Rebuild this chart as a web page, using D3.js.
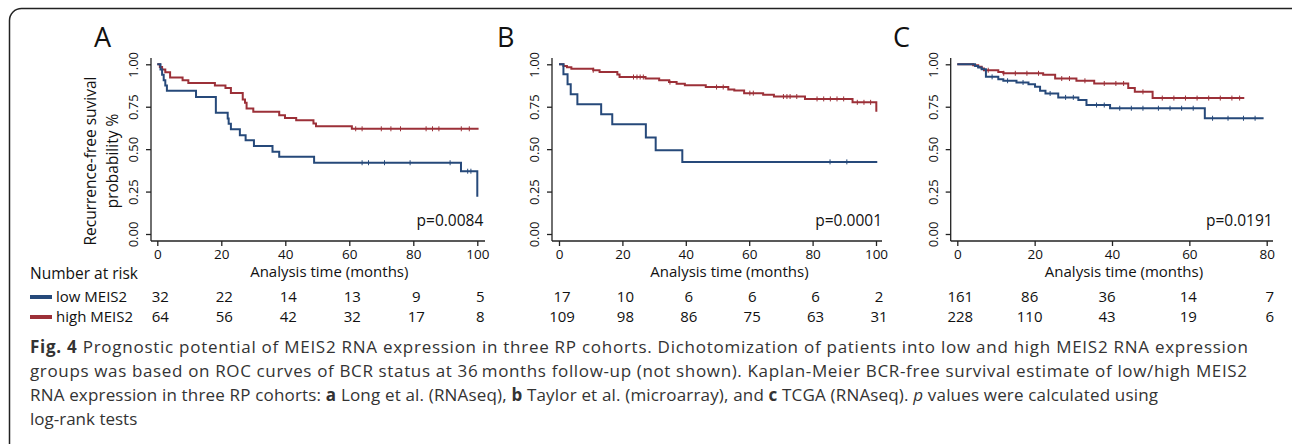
<!DOCTYPE html>
<html>
<head>
<meta charset="utf-8">
<script src="https://cdn.jsdelivr.net/npm/d3@7/dist/d3.min.js"></script>
<style>
  body { margin: 0; background: #fff; }
  svg { display: block; }
  text { font-family: "Open Sans", sans-serif; fill: #111; }
</style>
</head>
<body>
<div id="chart"></div>
<script>
// KM steps: [time in months, survival after the drop]
const lowA = [[0, 1], [1, 0.969], [1.5, 0.938], [2, 0.906], [2.5, 0.875], [3, 0.844],
  [12.1, 0.808], [18.3, 0.714], [22, 0.68], [22.3, 0.65], [23, 0.617], [25.8, 0.582],
  [27.6, 0.553], [30.2, 0.518], [36, 0.484], [38.1, 0.455], [49, 0.42], [94.9, 0.37], [100, 0.22]];
const highA = [[0, 1], [0.8, 0.984], [1.5, 0.969], [2.5, 0.953], [4, 0.922], [7.9, 0.906],
  [9.7, 0.89], [18, 0.875], [21.3, 0.861], [23, 0.831], [26.7, 0.792], [27.4, 0.773],
  [27.9, 0.739], [30, 0.72], [38.1, 0.70], [39.9, 0.684], [43.4, 0.671], [48.8, 0.651],
  [49.6, 0.635], [60.8, 0.62], [100.4, 0.62]];
const lowB = [[0, 1], [1.4, 0.941], [2.7, 0.882], [3.7, 0.824], [5.8, 0.765], [13.3, 0.706],
  [16.8, 0.647], [27.4, 0.569], [30.5, 0.494], [38.9, 0.425], [100.4, 0.425]];
const highB = [[0, 1], [1.4, 0.99], [2.5, 0.982], [3.9, 0.974], [10.8, 0.965], [12.8, 0.955],
  [18.4, 0.94], [19.1, 0.925], [27.3, 0.916], [31.6, 0.906], [34.7, 0.895], [37.1, 0.885],
  [39.7, 0.876], [46.3, 0.866], [53.4, 0.852], [55.3, 0.845], [58.4, 0.83], [64.4, 0.82],
  [67.8, 0.81], [77.6, 0.796], [92.6, 0.776], [100, 0.776], [100.1, 0.72]];
const lowC = [[0, 1], [4.6, 0.99], [5.4, 0.981], [6.3, 0.971], [7.4, 0.926], [10.6, 0.912],
  [11.9, 0.903], [15.3, 0.893], [18.4, 0.883], [20.1, 0.867], [21.4, 0.844], [22.8, 0.828],
  [26.1, 0.805], [31.3, 0.789], [33.4, 0.76], [39.5, 0.741], [64, 0.682], [79.2, 0.682]];
const highC = [[0, 1], [4.1, 0.994], [5.4, 0.986], [6.3, 0.975], [6.9, 0.965], [10.6, 0.955],
  [11.9, 0.947], [22.2, 0.938], [25.3, 0.916], [30.8, 0.903], [35.4, 0.887], [44.2, 0.86],
  [45.9, 0.838], [50.5, 0.801], [74.2, 0.801]];

// censoring marks (months)
const censLowA = [64, 66, 71, 79, 91.5, 97, 98];
const censHighA = [62, 64, 70, 73, 76, 84, 86, 88, 95, 97.5];
const censLowB = [85.5, 90.8];
const censHighB = [10.8, 23.5, 24.6, 25.6, 26.6, 35, 49.7, 51.8, 60.2, 61.3, 70.8, 71.9, 72.9,
  75, 81.4, 83.5, 85.6, 87.7, 89.8, 94.1, 96.2, 98.3];
const censLowC = [9, 13, 17, 24, 28, 30, 36, 38, 42, 45, 48, 52, 55, 58, 61, 66, 70, 74, 77];
const censHighC = [8, 12, 15, 18, 21, 27, 29, 33, 38, 41, 43, 48, 53, 56, 59, 62, 65, 68, 71, 73];

const riskTimesAB = [0, 20, 40, 60, 80, 100];
const riskTimesC = [0, 20, 40, 60, 80];
const riskLowA = [32, 22, 14, 13, 9, 5];
const riskHighA = [64, 56, 42, 32, 17, 8];
const riskLowB = [17, 10, 6, 6, 6, 2];
const riskHighB = [109, 98, 86, 75, 63, 31];
const riskLowC = [161, 86, 36, 14, 7];
const riskHighC = [228, 110, 43, 19, 6];

const yTicks = [0, 0.25, 0.5, 0.75, 1];
const pValues = ["p=0.0084", "p=0.0001", "p=0.0191"];
const panelLetters = ["A", "B", "C"];

const blue = "#26497a";
const red = "#9c3038";

const svg = d3.select("#chart").append("svg")
  .attr("width", 1292).attr("height", 444);

// outer frame, right and bottom edges run off the picture
svg.append("rect")
  .attr("x", 9.5).attr("y", 8.5)
  .attr("width", 1295).attr("height", 450)
  .attr("rx", 12)
  .attr("fill", "none")
  .attr("stroke", "#222")
  .attr("stroke-width", 1.5);

// riskShift: small pixel nudges of the at-risk columns, as stata placed them
const panels = [
  { axisX: 151, r: [157.3, 477.3], xMax: 100, xEnd: 485, low: lowA, high: highA,
    cl: censLowA, ch: censHighA, rt: riskTimesAB, rl: riskLowA, rh: riskHighA, letterX: 94,
    riskShift: [3, 3, 3, 3, 3, 3] },
  { axisX: 552, r: [559, 876], xMax: 100, xEnd: 882, low: lowB, high: highB,
    cl: censLowB, ch: censHighB, rt: riskTimesAB, rl: riskLowB, rh: riskHighB, letterX: 497,
    riskShift: [3, 3, 3, 3, 3, 3] },
  { axisX: 950.7, r: [957.3, 1266.7], xMax: 80, xEnd: 1273, low: lowC, high: highC,
    cl: censLowC, ch: censHighC, rt: riskTimesC, rl: riskLowC, rh: riskHighC, letterX: 893,
    riskShift: [3, -5, -5, -1, 3] }
];

const y = d3.scaleLinear().domain([0, 1]).range([234, 64.3]);
const axisY = 241;

const survAt = (steps, t) => {
  let s = steps[0][1];
  steps.forEach((d) => { if (d[0] <= t) s = d[1]; });
  return s;
};

panels.forEach((p, i) => {
  const x = d3.scaleLinear().domain([0, p.xMax]).range(p.r);
  const g = svg.append("g");

  // y axis
  const ya = g.append("g").attr("transform", `translate(${p.axisX},0)`)
    .call(d3.axisLeft(y).tickValues(yTicks).tickFormat(d3.format(".2f")).tickSize(5).tickSizeOuter(0));
  ya.select(".domain").attr("d", `M0,58V${axisY}`);
  ya.selectAll("text")
    .attr("transform", "rotate(-90)")
    .attr("x", 0).attr("y", -13)
    .attr("dy", 0)
    .style("text-anchor", "middle")
    .style("font-size", "13px");

  // x axis
  const xa = g.append("g").attr("transform", `translate(0,${axisY})`)
    .call(d3.axisBottom(x).ticks(p.xMax / 20).tickSize(5).tickSizeOuter(0));
  xa.select(".domain").attr("d", `M${p.axisX},0H${p.xEnd}`);
  xa.selectAll("text").attr("y", 8).style("font-size", "13.5px");
  g.selectAll(".domain, .tick line").attr("stroke", "#222").attr("stroke-width", 1.3);
  g.selectAll(".tick text").style("font-family", "'Open Sans', sans-serif").attr("fill", "#111");

  g.append("text")
    .attr("x", (p.r[0] + p.r[1]) / 2 + 12).attr("y", 277)
    .attr("text-anchor", "middle")
    .style("font-size", "15px")
    .text("Analysis time (months)");

  // curves
  const line = d3.line().x((d) => x(d[0])).y((d) => y(d[1])).curve(d3.curveStepAfter);
  [[p.high, p.ch, red], [p.low, p.cl, blue]].forEach(([steps, cens, col]) => {
    g.append("path").datum(steps)
      .attr("d", line)
      .attr("fill", "none")
      .attr("stroke", col)
      .attr("stroke-width", 2);
    g.selectAll(null).data(cens).join("line")
      .attr("x1", (d) => x(d)).attr("x2", (d) => x(d))
      .attr("y1", (d) => y(survAt(steps, d)) - 2.5)
      .attr("y2", (d) => y(survAt(steps, d)) + 2.5)
      .attr("stroke", col).attr("stroke-width", 1);
  });

  g.append("text")
    .attr("x", p.r[1] + 6).attr("y", 226)
    .attr("text-anchor", "end")
    .style("font-size", "15.5px")
    .text(pValues[i]);

  g.append("text")
    .attr("x", p.letterX).attr("y", 47)
    .style("font-size", "27px")
    .text(panelLetters[i]);

  // number at risk
  g.selectAll(null).data(p.rl).join("text")
    .attr("x", (d, j) => x(p.rt[j]) + p.riskShift[j]).attr("y", 302)
    .attr("text-anchor", "middle").style("font-size", "15px")
    .text((d) => d);
  g.selectAll(null).data(p.rh).join("text")
    .attr("x", (d, j) => x(p.rt[j]) + p.riskShift[j]).attr("y", 322)
    .attr("text-anchor", "middle").style("font-size", "15px")
    .text((d) => d);
});

// y axis title (panel A only)
const yt = svg.append("text")
  .attr("transform", "translate(96,161) rotate(-90)")
  .attr("text-anchor", "middle")
  .style("font-size", "15.5px");
yt.append("tspan").attr("x", 0).attr("y", 0).text("Recurrence-free suvival");
yt.append("tspan").attr("x", 0).attr("y", 22).text("probability %");

// risk table labels
svg.append("text").attr("x", 30).attr("y", 279).style("font-size", "15.5px").text("Number at risk");
[["low MEIS2", blue, 297], ["high MEIS2", red, 317]].forEach(([lab, col, cy]) => {
  svg.append("line").attr("x1", 30).attr("x2", 52).attr("y1", cy).attr("y2", cy)
    .attr("stroke", col).attr("stroke-width", 4);
  svg.append("text").attr("x", 56).attr("y", cy + 5).style("font-size", "15px").text(lab);
});

// caption
const cap = svg.append("g").style("font-size", "17px");
const capLines = [
  [["Fig. 4", "b"], [" Prognostic potential of MEIS2 RNA expression in three RP cohorts. Dichotomization of patients into low and high MEIS2 RNA expression", ""]],
  [["groups was based on ROC curves of BCR status at 36\u2009months follow-up (not shown). Kaplan-Meier BCR-free survival estimate of low/high MEIS2", ""]],
  [["RNA expression in three RP cohorts: ", ""], ["a", "b"], [" Long et al. (RNAseq), ", ""], ["b", "b"],
    [" Taylor et al. (microarray), and ", ""], ["c", "b"], [" TCGA (RNAseq). ", ""], ["p", "i"],
    [" values were calculated using", ""]],
  [["log-rank tests", ""]]
];
const capWidths = [1218, 1217, 1128, null];
capLines.forEach((parts, i) => {
  const t = cap.append("text").attr("x", 30).attr("y", 353 + i * 24).attr("fill", "#333");
  if (capWidths[i]) t.attr("textLength", capWidths[i]).attr("lengthAdjust", "spacing");
  parts.forEach(([s, st]) => {
    t.append("tspan")
      .style("font-weight", st === "b" ? "bold" : null)
      .style("font-style", st === "i" ? "italic" : null)
      .attr("fill", "#333")
      .text(s);
  });
});
</script>
</body>
</html>
